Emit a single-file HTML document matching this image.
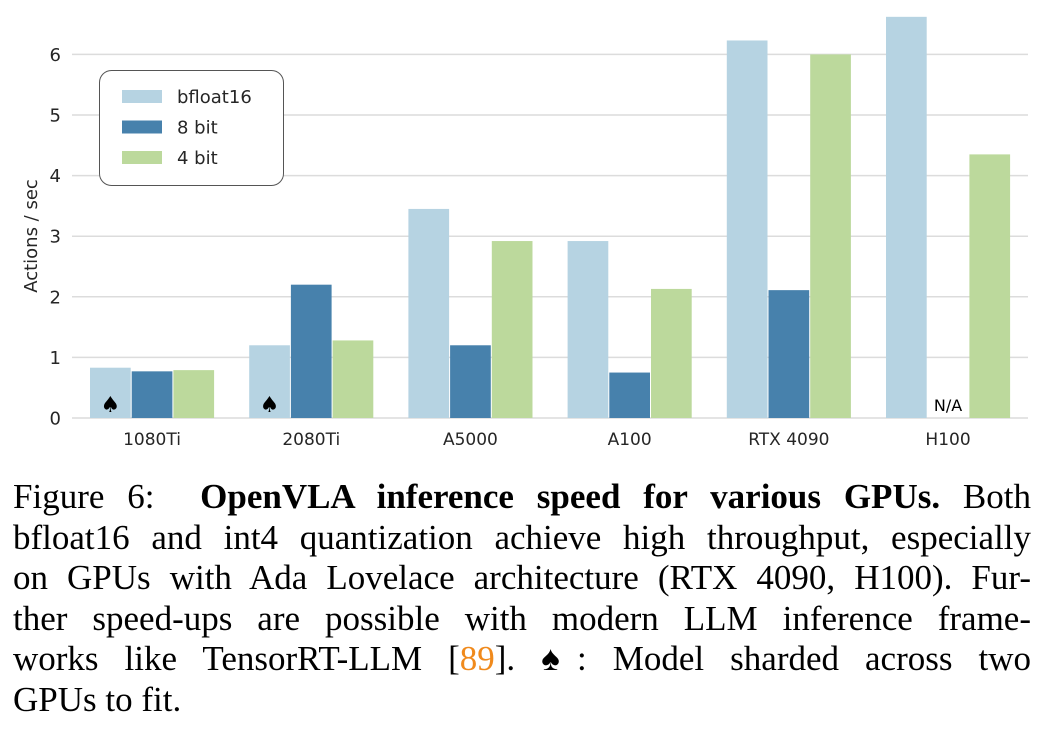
<!DOCTYPE html>
<html><head><meta charset="utf-8"><style>
body{margin:0;background:#fff;width:1056px;height:746px;overflow:hidden;position:relative}
svg{position:absolute;left:0;top:0}
#cap{position:absolute;left:13px;top:477px;width:1018px;font-family:"Liberation Serif",serif;font-size:35px;line-height:40.6px;color:#000}
#cap div{text-align:justify;text-align-last:justify;white-space:nowrap}
#cap div.last{text-align-last:left}
</style></head><body>
<svg id="chart" width="1056" height="470"></svg>
<div id="cap">
<div>Figure 6: &nbsp;<b>OpenVLA inference speed for various GPUs.</b> Both</div>
<div>bfloat16 and int4 quantization achieve high throughput, especially</div>
<div>on GPUs with Ada Lovelace architecture (RTX 4090, H100). Fur-</div>
<div>ther speed-ups are possible with modern LLM inference frame-</div>
<div>works like TensorRT-LLM [<span style="color:#f08a1c">89</span>]. &#9824;: Model sharded across two</div>
<div class="last">GPUs to fit.</div>
</div>
<script>
const categories=["1080Ti","2080Ti","A5000","A100","RTX 4090","H100"];
const bf16=[0.83,1.2,3.45,2.92,6.23,6.62];
const int8=[0.77,2.2,1.2,0.75,2.11,null];
const int4=[0.79,1.28,2.92,2.13,6.0,4.35];
const yTicks=[0,1,2,3,4,5,6];
const seriesNames=["bfloat16","8 bit","4 bit"];
const sharded=[true,true,false,false,false,false];

const NS="http://www.w3.org/2000/svg";
const svg=document.getElementById('chart');
const y0=418,unit=60.6,x0=89.5,gw=159.2,bw=41.7;
const Y=v=>y0-v*unit;
const X=(i,s)=>x0+i*gw+s*bw;
const colors=["#b6d3e2","#4781ac","#bcd99c"];
const FF='DejaVu Sans, sans-serif';
function mk(t,a){const e=document.createElementNS(NS,t);for(const k in a)e.setAttribute(k,a[k]);svg.appendChild(e);return e;}
yTicks.forEach(t=>{
  const l=mk('line',{x1:72,x2:1028,y1:Y(t),y2:Y(t),stroke:'#dcdcdc','stroke-width':1.5});
  
  
  const tx=mk('text',{x:61,y:Y(t)+6.5,'text-anchor':'end','font-family':FF,'font-size':18,fill:'#262626'});
  tx.textContent=t;
  
  
});
const yl=mk('text',{transform:'translate(37,236) rotate(-90)','text-anchor':'middle','font-family':FF,'font-size':18,fill:'#262626'});
yl.textContent='Actions / sec';


[bf16,int8,int4].forEach((arr,s)=>{
  arr.forEach((v,i)=>{
    if(v==null)return;
    const r=mk('rect',{x:X(i,s)+0.5,y:Y(v),width:bw-1,height:v*unit,fill:colors[s]});
    
    
  });
});
categories.forEach((c,i)=>{
  const t=mk('text',{x:X(i,1.5),y:445,'text-anchor':'middle','font-family':FF,'font-size':17,fill:'#262626'});
  t.textContent=c;
  
  
  if(sharded[i]){
    const sp=mk('text',{x:X(i,0.5),y:412,'text-anchor':'middle','font-family':FF,'font-size':22,fill:'#000'});
    sp.textContent='\u2660';
    
    
  }
  if(int8[i]==null){
    const na=mk('text',{x:X(i,1.5),y:411,'text-anchor':'middle','font-family':FF,'font-size':16,fill:'#000'});
    na.textContent='N/A';
    
    
  }
});
const lb=mk('rect',{x:99.5,y:70.5,width:184,height:115,rx:12,fill:'#fff',stroke:'#555','stroke-width':1});


seriesNames.forEach((n,k)=>{
  const yy=96+k*30.5;
  const r=mk('rect',{x:122,y:yy-6,width:40,height:13,fill:colors[k]});
  
  
  const t=mk('text',{x:177,y:yy+7,'font-family':FF,'font-size':18,fill:'#262626'});
  t.textContent=n;
  
  
});
</script>
</body></html>
